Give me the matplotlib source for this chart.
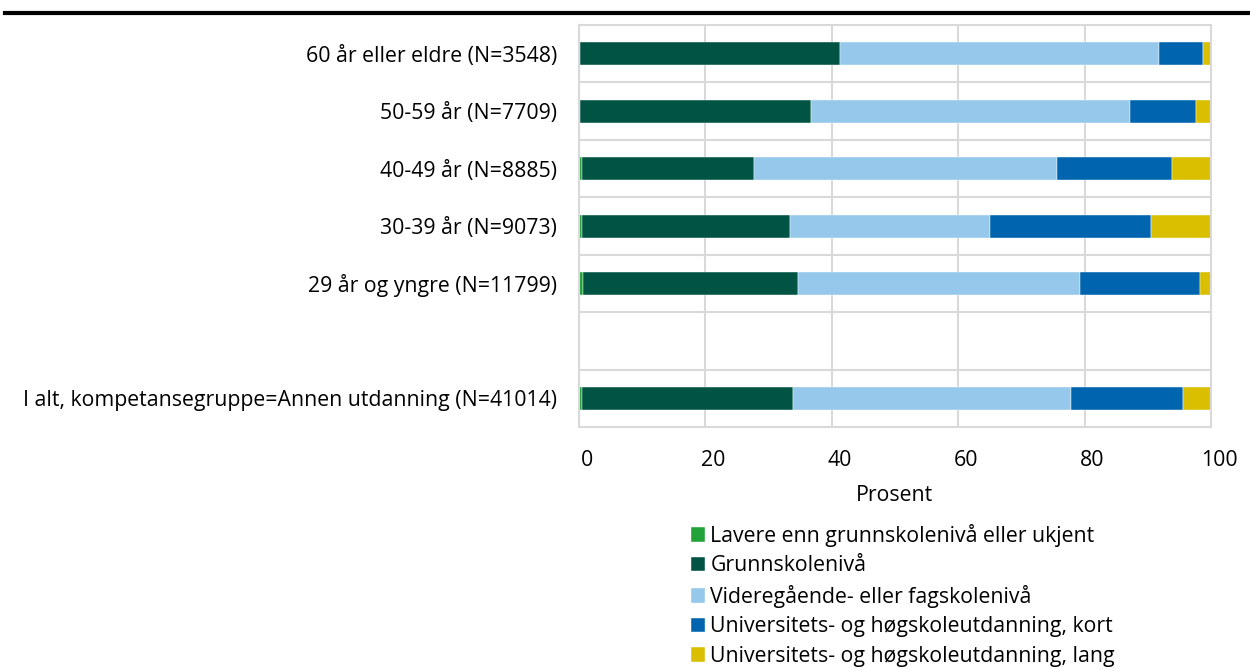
import matplotlib.pyplot as plt
import matplotlib.transforms as mtransforms
import numpy as np

plt.rcParams['font.family'] = ['Open Sans', 'DejaVu Sans']

categories = [
    "60 år eller eldre (N=3548)",
    "50-59 år (N=7709)",
    "40-49 år (N=8885)",
    "30-39 år (N=9073)",
    "29 år og yngre (N=11799)",
    "",
    "I alt, kompetansegruppe=Annen utdanning (N=41014)",
]

series_names = [
    "Lavere enn grunnskolenivå eller ukjent",
    "Grunnskolenivå",
    "Videregående- eller fagskolenivå",
    "Universitets- og høgskoleutdanning, kort",
    "Universitets- og høgskoleutdanning, lang",
]

# values per category (empty slot = None)
lavere = [0.2, 0.2, 0.5, 0.5, 0.7, None, 0.5]
grunnskole = [41.2, 36.6, 27.3, 33.0, 34.0, None, 33.4]
videregaende = [50.3, 50.4, 47.9, 31.5, 44.6, None, 44.0]
uni_kort = [7.0, 10.5, 18.1, 25.5, 19.0, None, 17.7]
uni_lang = [1.3, 2.3, 6.2, 9.5, 1.7, None, 4.4]

xticks = [0, 20, 40, 60, 80, 100]

colors = ["#23a23a", "#015443", "#96c8ec", "#0064af", "#d9bf00"]
FS = 15.3

fig = plt.figure(figsize=(12.5, 6.69), dpi=100)
ax = fig.add_axes([0.4628, 0.3617, 0.5060, 0.6009])

series = [lavere, grunnskole, videregaende, uni_kort, uni_lang]
n = len(categories)
ypos = np.arange(n)
left = np.zeros(n)
handles = []
for name, vals, col in zip(series_names, series, colors):
    v = np.array([x if x is not None else 0 for x in vals], dtype=float)
    h = ax.barh(ypos, v, left=left, height=0.4, color=col, label=name,
                edgecolor="white", linewidth=0.3)
    handles.append(h)
    left += v

ax.set_xlim(0, 100)
ax.set_ylim(n - 0.5, -0.5)
ax.set_yticks(ypos)
ax.set_yticklabels(categories, fontsize=FS)
ax.set_xticks(xticks)
ax.set_xticklabels([])
ax.tick_params(axis="both", length=0)
ax.tick_params(axis="y", pad=15.5)

# x tick labels drawn slightly right of the gridlines, as in the original
trans = ax.get_xaxis_transform() + mtransforms.ScaledTranslation(
    8 / 100, -33 / 100, fig.dpi_scale_trans)
for t in xticks:
    ax.text(t, 0, str(t), transform=trans, ha="center", va="center",
            fontsize=FS)
ax.text(0.5, 0, "Prosent", transform=ax.transAxes + mtransforms.ScaledTranslation(
    0, -68 / 100, fig.dpi_scale_trans), ha="center", va="center",
    fontsize=FS)

# gridlines: vertical at ticks, horizontal between categories
ax.set_axisbelow(True)
ax.xaxis.grid(True, color="#d9d9d9", linewidth=1.5)
for b in np.arange(n - 1) + 0.5:
    ax.axhline(b, color="#d9d9d9", linewidth=1.5, zorder=0)
for s in ax.spines.values():
    s.set_color("#d9d9d9")
    s.set_linewidth(1.5)

leg = fig.legend(handles=handles, labels=series_names, loc="upper left",
                 bbox_to_anchor=(0.5456, 0.2295), frameon=False, fontsize=FS,
                 handlelength=0.68, handleheight=0.68, handletextpad=0.25,
                 labelspacing=0.4, borderaxespad=0)
# top rule
fig.add_artist(plt.Line2D([0.004, 1.0], [0.981, 0.981], color="black",
                          linewidth=3, transform=fig.transFigure))

fig.savefig("out.png", dpi=100)
